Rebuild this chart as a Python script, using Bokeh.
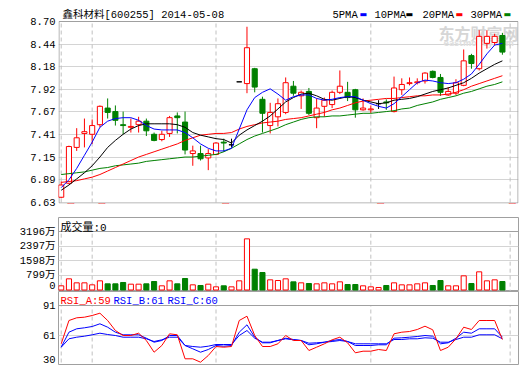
from bokeh.plotting import figure
from bokeh.layouts import column
from bokeh.models import Range1d, FixedTicker, Label, Span
from bokeh.embed import file_html
from bokeh.resources import INLINE

# ---------------- data ----------------
title_text = "鑫科材料[600255] 2014-05-08"
month_labels = ["1月", "2月", "3月", "4月", "5月"]
month_pos = [0, 4, 20, 40, 58]

opens = [6.69, 6.85, 7.26, 7.42, 7.41, 7.52, 7.71, 7.67, 7.52, 7.49,
         7.52, 7.56, 7.41, 7.35, 7.42, 7.62, 7.55, 7.19, 7.19, 7.14,
         7.18, 7.32, 7.29, 8.01, 7.99, 8.16, 7.81, 7.51, 7.61, 7.66,
         7.96, 7.85, 7.90, 7.60, 7.73, 7.75, 7.89, 7.89, 7.92, 7.69,
         7.69, 7.76, 7.78, 7.67, 7.92, 7.99, 8.00, 8.02, 8.13, 8.06,
         7.86, 7.88, 7.97, 8.31, 8.16, 8.45, 8.46, 8.54]
highs = [6.87, 7.28, 7.48, 7.59, 7.58, 7.74, 7.82, 7.74, 7.67, 7.59,
         7.61, 7.59, 7.43, 7.45, 7.62, 7.66, 7.67, 7.28, 7.28, 7.24,
         7.32, 7.36, 7.36, 8.01, 8.64, 8.17, 7.84, 7.77, 7.82, 8.06,
         8.02, 7.91, 7.94, 7.82, 7.83, 7.91, 8.14, 8.01, 7.93, 7.82,
         7.74, 7.80, 7.81, 8.07, 8.05, 8.06, 8.05, 8.12, 8.14, 8.10,
         7.95, 8.04, 8.38, 8.33, 8.60, 8.60, 8.56, 8.57]
lows = [6.68, 6.84, 7.22, 7.26, 7.30, 7.49, 7.59, 7.51, 7.41, 7.43,
        7.43, 7.39, 7.33, 7.33, 7.38, 7.42, 7.18, 7.05, 7.11, 7.00,
        7.17, 7.21, 7.26, 8.01, 7.88, 7.89, 7.43, 7.42, 7.50, 7.64,
        7.85, 7.70, 7.63, 7.48, 7.61, 7.71, 7.87, 7.79, 7.60, 7.68,
        7.65, 7.70, 7.69, 7.66, 7.86, 7.97, 7.98, 7.99, 8.05, 7.85,
        7.85, 7.86, 7.96, 8.16, 8.14, 8.39, 8.43, 8.32]
closes = [6.83, 7.27, 7.37, 7.44, 7.51, 7.73, 7.66, 7.57, 7.51, 7.50,
          7.56, 7.45, 7.34, 7.41, 7.60, 7.60, 7.23, 7.22, 7.13, 7.19,
          7.31, 7.31, 7.29, 8.01, 8.40, 7.95, 7.65, 7.66, 7.76, 8.00,
          7.88, 7.89, 7.65, 7.71, 7.80, 7.89, 7.96, 7.83, 7.69, 7.71,
          7.70, 7.76, 7.77, 7.94, 7.98, 8.00, 8.01, 8.11, 8.06, 7.89,
          7.90, 8.00, 8.25, 8.22, 8.53, 8.53, 8.53, 8.35]

ma5 = [6.80, 6.89, 7.02, 7.17, 7.32, 7.49, 7.56, 7.59, 7.60, 7.60,
       7.57, 7.51, 7.47, 7.46, 7.46, 7.46, 7.43, 7.37, 7.30, 7.25,
       7.22, 7.22, 7.25, 7.47, 7.69, 7.83, 7.89, 7.93, 7.87, 7.80,
       7.84, 7.86, 7.86, 7.82, 7.80, 7.81, 7.83, 7.84, 7.84, 7.80,
       7.76, 7.73, 7.71, 7.76, 7.84, 7.92, 8.00, 8.03, 8.02, 8.00,
       7.99, 8.00, 8.04, 8.10, 8.21, 8.33, 8.43, 8.45]
ma10 = [6.77, 6.83, 6.90, 6.97, 7.05, 7.15, 7.26, 7.34, 7.41, 7.47,
        7.51, 7.53, 7.53, 7.53, 7.53, 7.52, 7.49, 7.43, 7.40, 7.38,
        7.36, 7.35, 7.31, 7.40, 7.46, 7.51, 7.56, 7.62, 7.70, 7.78,
        7.83, 7.87, 7.88, 7.85, 7.81, 7.80, 7.82, 7.84, 7.83, 7.80,
        7.78, 7.76, 7.77, 7.80, 7.81, 7.82, 7.84, 7.87, 7.90, 7.92,
        7.94, 7.97, 8.00, 8.05, 8.11, 8.16, 8.21, 8.25]
ma20 = [6.86, 6.87, 6.88, 6.90, 6.92, 6.95, 6.99, 7.03, 7.07, 7.11,
        7.15, 7.18, 7.21, 7.24, 7.27, 7.30, 7.34, 7.37, 7.40, 7.41,
        7.42, 7.42, 7.43, 7.47, 7.50, 7.52, 7.54, 7.55, 7.56, 7.58,
        7.59, 7.60, 7.62, 7.64, 7.66, 7.69, 7.71, 7.74, 7.77, 7.79,
        7.80, 7.81, 7.82, 7.82, 7.83, 7.84, 7.85, 7.85, 7.86, 7.86,
        7.87, 7.89, 7.92, 7.96, 7.99, 8.02, 8.05, 8.08]
ma30 = [6.95, 6.96, 6.97, 6.98, 7.00, 7.02, 7.03, 7.05, 7.06, 7.07,
        7.08, 7.10, 7.11, 7.12, 7.13, 7.14, 7.15, 7.15, 7.16, 7.17,
        7.18, 7.21, 7.25, 7.30, 7.35, 7.39, 7.42, 7.45, 7.48, 7.52,
        7.55, 7.58, 7.60, 7.61, 7.61, 7.62, 7.62, 7.63, 7.64, 7.65,
        7.65, 7.66, 7.67, 7.68, 7.70, 7.71, 7.74, 7.76, 7.78, 7.81,
        7.83, 7.85, 7.88, 7.90, 7.93, 7.96, 7.98, 8.01]

volume = [228, 610, 391, 391, 282, 501, 337, 337, 410, 318,
          318, 337, 464, 228, 501, 337, 628, 282, 246, 318,
          173, 228, 173, 501, 2794, 1137, 956, 555, 519, 610,
          446, 391, 355, 337, 391, 337, 446, 300, 300, 228,
          173, 137, 246, 391, 282, 282, 337, 391, 246, 519,
          228, 228, 774, 355, 992, 501, 555, 464]

rsi_a = [52.7, 76, 78.7, 79.3, 81, 83.3, 76, 66, 61, 61,
         63.3, 56, 44.3, 51, 62.7, 61.7, 37.7, 37.7, 34.3, 41,
         50, 49.3, 50, 76, 80.3, 61, 50, 50, 52.7, 61,
         56, 56, 46, 49.3, 52.7, 56.7, 59.3, 53.7, 43.7, 45.3,
         45.3, 47, 46, 62.7, 64.3, 65, 67, 70.3, 66.7, 46,
         49.3, 57.7, 69.3, 67, 76, 76, 76, 57]
rsi_b = [49.3, 64.3, 67.7, 68.7, 70, 72.7, 69.3, 64.3, 61.7, 61.7,
         61.7, 58.3, 54.3, 56, 61, 61, 51, 47.7, 44.3, 47,
         51, 50.3, 51, 64.3, 71.7, 59.3, 53.7, 53.7, 56, 58.3,
         57, 56, 51.7, 52.7, 54.3, 56, 57, 55, 51, 51,
         51, 51.7, 51.7, 58.3, 58.7, 59.3, 60, 61, 60.3, 52.7,
         53.7, 58.3, 64.3, 63.3, 67.7, 67.7, 67.7, 59.3]
rsi_c = [49.3, 57.7, 59.3, 60.3, 61.7, 63.3, 62, 61, 59.3, 59.3,
         59.3, 57.7, 55, 56.7, 59.3, 59.3, 51, 50, 49.3, 50.3,
         52, 52, 52, 61, 66, 58.3, 54.3, 54.3, 56, 57.7,
         56.7, 56, 53.3, 53.7, 54.3, 55, 56, 55, 52.7, 52.7,
         52.7, 52.7, 52.7, 57, 57, 57.7, 57.7, 58.7, 58.3, 54.3,
         54.3, 57, 59.3, 59.3, 61.7, 61.7, 61.7, 57.7]

price_ticks = [6.63, 6.89, 7.15, 7.41, 7.67, 7.92, 8.18, 8.44, 8.70]
vol_ticks = [0, 799, 1598, 2397, 3196]
vol_tick_labels = ["0", "799万", "1598万", "2397万", "3196万"]
rsi_ticks = [37.5, 61, 91]
rsi_tick_labels = ["30", "61", "91"]
ma_names = ["5PMA", "10PMA", "20PMA", "30PMA"]
rsi_legend = ["RSI_A:59", "RSI_B:61", "RSI_C:60"]
vol_legend = "成交量:0"

# ---------------- style ----------------
RED = "#ff0000"
GREEN = "#008000"
BLUE = "#0000ff"
BLACK = "#000000"
FRAME = "#a0a0a0"
GRID = "#d4d4d4"
DASH = "#c0c0c0"
FONT = "'Liberation Mono', 'Noto Sans CJK SC', monospace"
FS = "10.5px"

idx = list(range(len(opens)))
XR = (-0.35, 59.08)
PX_X = 460 / (XR[1] - XR[0])          # pixels per bar slot

cndl_color = [RED if c > o else (GREEN if c < o else BLACK) for o, c in zip(opens, closes)]
cndl_fill = [GREEN if c < o else "white" for o, c in zip(opens, closes)]
body_top = [max(o, c) for o, c in zip(opens, closes)]
body_bot = [min(o, c) for o, c in zip(opens, closes)]
vol_color = [RED if c >= o else GREEN for o, c in zip(opens, closes)]
vol_fill = ["white" if c >= o else GREEN for o, c in zip(opens, closes)]


def make_fig(h, top, bottom, yr, outline=FRAME):
    p = figure(width=520, height=h, x_range=Range1d(*XR), y_range=yr,
               x_axis_type=None, toolbar_location=None, output_backend="svg",
               min_border_left=58, min_border_right=2, min_border_top=top,
               min_border_bottom=bottom, background_fill_color="white",
               border_fill_color="white", outline_line_color=outline, title=None)
    ax = p.yaxis[0]
    ax.axis_line_color = None
    ax.major_tick_line_color = None
    ax.minor_tick_line_color = None
    ax.major_tick_out = 0
    ax.major_tick_in = 0
    ax.major_label_standoff = 3
    ax.major_label_text_font = FONT
    ax.major_label_text_font_size = FS
    ax.major_label_text_color = BLACK
    p.ygrid.grid_line_color = GRID
    return p


def lab(p, text, x, y, color=BLACK, font=FONT, size=FS, x_units="screen", style="normal",
        level="annotation", x_offset=0):
    p.add_layout(Label(x=x, y=y, x_units=x_units, y_units="screen", text=text,
                       text_font=font, text_font_size=size, text_color=color,
                       text_baseline="middle", text_align="left", x_offset=x_offset,
                       text_font_style=style, level=level))


# ---------------- main price panel ----------------
# the frame reaches the top of the canvas so that title and legend lie inside it;
# the visible border is drawn at the price range edges.
PMIN, PMAX = price_ticks[0], price_ticks[-1]
KY = 181 / (PMAX - PMIN)                 # pixels per price unit
p1 = make_fig(216, 0, 13, Range1d(PMIN - 1 / KY, PMAX + 21 / KY), outline=None)
p1.yaxis.ticker = FixedTicker(ticks=price_ticks)
p1.yaxis.major_label_overrides = {t: f"{t:.2f}" for t in price_ticks}
p1.ygrid.ticker = FixedTicker(ticks=price_ticks[1:-1])

# watermark
lab(p1, "东方财富网", 380, 171, color="#d6d6d6", font="'Noto Sans CJK SC'", size="16px",
    style="bold", level="underlay")
lab(p1, "eastmoney.com", 385, 160, color="#e0e0e0", font="'DejaVu Sans'", size="8px",
    style="bold", level="underlay")

p1.segment(x0=month_pos, y0=[PMIN] * len(month_pos), x1=month_pos, y1=[PMAX] * len(month_pos),
           line_color=DASH, line_dash="4 3", line_width=1)

# frame border of the price area
bx0 = XR[0] + 0.5 / PX_X
bx1 = XR[1] - 0.5 / PX_X
by0 = PMIN - 0.5 / KY
p1.segment(x0=[bx0, bx0, bx1, bx0], y0=[by0, PMAX, by0, by0],
           x1=[bx0, bx1, bx1, bx1], y1=[PMAX, PMAX, PMAX, by0],
           line_color=FRAME, line_width=1)

p1.segment(x0=idx, y0=lows, x1=idx, y1=highs, line_color=cndl_color, line_width=1)
p1.vbar(x=idx, width=0.66, top=body_top, bottom=body_bot, fill_color=cndl_fill,
        line_color=cndl_color, line_width=1)

p1.line(idx, ma30, line_color=GREEN, line_width=1)
p1.line(idx, ma20, line_color=RED, line_width=1)
p1.line(idx, ma10, line_color=BLACK, line_width=1)
p1.line(idx, ma5, line_color=BLUE, line_width=1)

# title and legend
lab(p1, title_text, 4, 189)
leg_x = [274, 316, 364, 412]
box_x = [301, 347, 397, 445]
for name, lx, bxp, col in zip(ma_names, leg_x, box_x, [BLUE, BLACK, RED, GREEN]):
    lab(p1, name, lx, 189)
    lab(p1, "▬", bxp, 189, color=col, font="'DejaVu Sans'", size="8px")

month_offsets = [-2.5, -2.5, -2.5, -2.5, -10]
for m, t, off in zip(month_pos, month_labels, month_offsets):
    lab(p1, t, m, -5, color=RED, x_units="data", x_offset=off, size="11px")

# ---------------- volume panel ----------------
k = 3196 / 58.5
p2 = make_fig(75, 1, 0, Range1d(-1.5 * k, -1.5 * k + 74 * k))
p2.yaxis.ticker = FixedTicker(ticks=vol_ticks)
p2.yaxis.major_label_overrides = dict(zip(vol_ticks, vol_tick_labels))
p2.ygrid.ticker = FixedTicker(ticks=vol_ticks[1:4])
p2.add_layout(Span(location=3196, dimension="width", line_color=FRAME, line_width=1))
p2.segment(x0=month_pos, y0=[-200] * len(month_pos), x1=month_pos, y1=[3196] * len(month_pos),
           line_color=DASH, line_dash="4 3", line_width=1)
p2.vbar(x=idx, width=0.66, top=volume, bottom=0, fill_color=vol_fill, line_color=vol_color,
        line_width=1)
lab(p2, vol_legend, 2, 64, size="11px")

# ---------------- RSI panel ----------------
p3 = make_fig(74, 0, 0, Range1d(31, 105))
p3.yaxis.ticker = FixedTicker(ticks=rsi_ticks)
p3.yaxis.major_label_overrides = dict(zip(rsi_ticks, rsi_tick_labels))
p3.ygrid.ticker = FixedTicker(ticks=[61])
p3.add_layout(Span(location=91, dimension="width", line_color=FRAME, line_width=1))
p3.segment(x0=month_pos, y0=[20] * len(month_pos), x1=month_pos, y1=[91] * len(month_pos),
           line_color=DASH, line_dash="4 3", line_width=1)
p3.line(idx, rsi_c, line_color=BLUE, line_width=1)
p3.line(idx, rsi_b, line_color=BLUE, line_width=1)
p3.line(idx, rsi_a, line_color=RED, line_width=1)
for t, x, col in zip(rsi_legend, [2, 55, 109], [RED, BLUE, BLUE]):
    lab(p3, t, x, 65, color=col)

layout = column(p1, p2, p3, spacing=0)
open("out.html", "w").write(file_html(layout, INLINE))
